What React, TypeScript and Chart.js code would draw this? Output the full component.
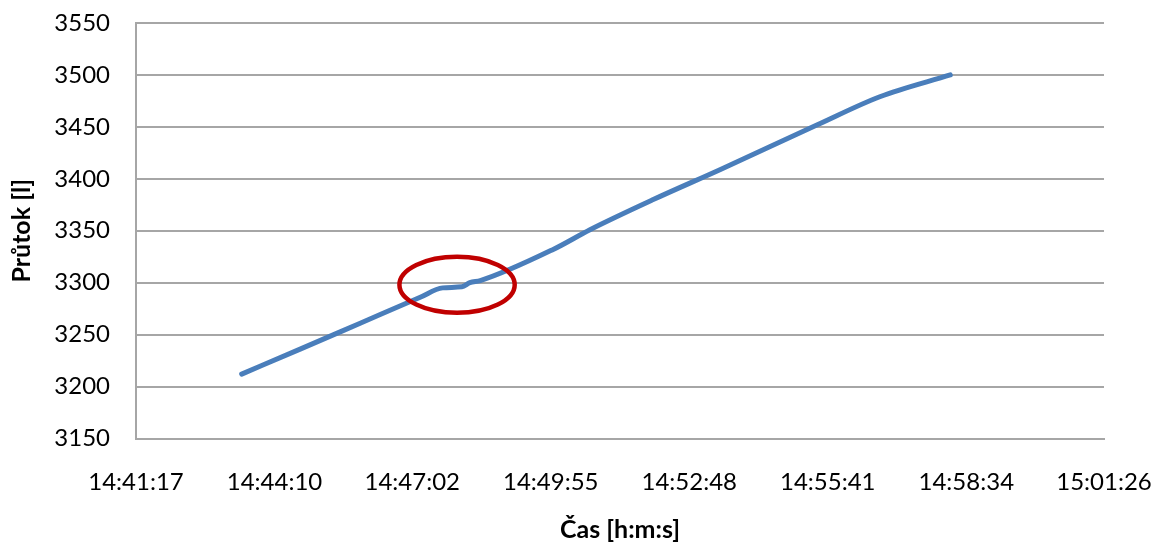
import React, { useEffect, useRef } from "react";
import { Chart, registerables } from "chart.js";

Chart.register(...registerables);

// Sample times (h:m:s) and flow values [l]
const times: string[] = [
  "14:43:29", "14:44:42", "14:45:57", "14:47:12", "14:47:40", "14:48:04",
  "14:48:14", "14:48:27", "14:49:58", "14:50:44", "14:52:03", "14:53:27",
  "14:55:28", "14:56:46", "14:58:14",
];
const flow: number[] = [
  3212, 3236, 3261, 3286, 3295, 3296,
  3300, 3302, 3332, 3351, 3380, 3409,
  3452, 3479, 3500,
];

const xTickLabels: string[] = [
  "14:41:17", "14:44:10", "14:47:02", "14:49:55",
  "14:52:48", "14:55:41", "14:58:34", "15:01:26",
];
const yMin = 3150;
const yMax = 3550;
const yStep = 50;

// Highlight ellipse (data coordinates): centre time, centre value, half-width [s], half-height [l]
const highlightCenterTime = "14:47:58";
const highlightCenterValue = 3298;
const highlightHalfWidthSec = 72;
const highlightHalfHeight = 27;

const xTitle = "Čas [h:m:s]";
const yTitle = "Průtok [l]";

const toSec = (s: string): number => {
  const [h, m, sec] = s.split(":").map(Number);
  return h * 3600 + m * 60 + sec;
};
const fmt = (v: number): string => {
  const t = Math.round(v);
  const h = Math.floor(t / 3600);
  const m = Math.floor((t % 3600) / 60);
  const s = t % 60;
  return `${h}:${String(m).padStart(2, "0")}:${String(s).padStart(2, "0")}`;
};

const FONT = "Lato, 'Open Sans', sans-serif";

export default function App() {
  const ref = useRef<HTMLCanvasElement | null>(null);

  useEffect(() => {
    if (!ref.current) return;
    const tickVals = xTickLabels.map(toSec);
    const ellipsePlugin = {
      id: "highlightEllipse",
      afterDatasetsDraw(chart: any) {
        const xs = chart.scales.x;
        const ys = chart.scales.y;
        const cx = xs.getPixelForValue(toSec(highlightCenterTime));
        const cy = ys.getPixelForValue(highlightCenterValue);
        const rx = Math.abs(xs.getPixelForValue(toSec(highlightCenterTime) + highlightHalfWidthSec) - cx);
        const ry = Math.abs(ys.getPixelForValue(highlightCenterValue + highlightHalfHeight) - cy);
        const ctx = chart.ctx;
        ctx.save();
        ctx.beginPath();
        ctx.ellipse(cx, cy, rx, ry, 0, 0, Math.PI * 2);
        ctx.strokeStyle = "#c00000";
        ctx.lineWidth = 4.5;
        ctx.stroke();
        ctx.restore();
      },
    };

    const chart = new Chart(ref.current, {
      type: "line",
      data: {
        datasets: [
          {
            data: times.map((t, i) => ({ x: toSec(t), y: flow[i] })),
            borderColor: "#4a7ebb",
            borderWidth: 5,
            borderCapStyle: "round",
            borderJoinStyle: "round",
            pointRadius: 0,
            cubicInterpolationMode: "monotone",
            fill: false,
          },
        ],
      },
      options: {
        animation: false,
        responsive: true,
        maintainAspectRatio: false,
        layout: { padding: { left: 0, right: 48, top: 23, bottom: 0 } },
        plugins: { legend: { display: false }, tooltip: { enabled: false } },
        scales: {
          x: {
            type: "linear",
            min: toSec(xTickLabels[0]),
            max: toSec(xTickLabels[xTickLabels.length - 1]),
            afterBuildTicks: (scale: any) => {
              scale.ticks = tickVals.map((v) => ({ value: v }));
            },
            afterFit: (scale: any) => {
              scale.height = 106.5;
            },
            grid: {
              display: true,
              drawOnChartArea: false,
              drawTicks: true,
              tickLength: 29,
              color: "rgba(0,0,0,0)",
              tickColor: "rgba(0,0,0,0)",
            },
            border: { display: true, color: "#a6a6a6", width: 2 },
            ticks: {
              callback: (v: any) => fmt(Number(v)),
              color: "#000",
              font: { family: FONT, size: 24 },
              padding: 0,
              maxRotation: 0,
              autoSkip: false,
            },
            title: {
              display: true,
              text: xTitle,
              color: "#000",
              font: { family: FONT, size: 25, weight: "bold" },
              padding: { top: 0, bottom: 0 },
            },
          },
          y: {
            min: yMin,
            max: yMax,
            afterFit: (scale: any) => {
              scale.width = 136;
            },
            ticks: {
              stepSize: yStep,
              callback: (v: any) => String(v),
              color: "#000",
              font: { family: FONT, size: 24 },
              padding: 0,
            },
            grid: {
              color: "#a6a6a6",
              lineWidth: 2,
              drawTicks: true,
              tickLength: 26,
              tickColor: "rgba(0,0,0,0)",
            },
            border: { display: true, color: "#a6a6a6", width: 2 },
            title: {
              display: true,
              text: yTitle,
              color: "#000",
              font: { family: FONT, size: 25, weight: "bold" },
              padding: { top: 7, bottom: 0 },
            },
          },
        },
      },
      plugins: [ellipsePlugin],
    } as any);
    return () => chart.destroy();
  }, []);

  return (
    <div style={{ position: "absolute", left: 0, top: 0, width: 1152, height: 545, background: "#fff" }}>
      <canvas ref={ref} />
    </div>
  );
}
